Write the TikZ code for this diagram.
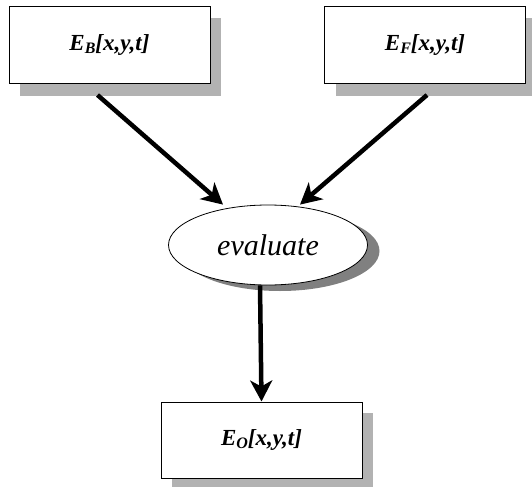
\documentclass[tikz,border=0pt]{standalone}
\usepackage{fontspec}
\setmainfont{Liberation Serif}
\usetikzlibrary{arrows.meta,calc,shapes.geometric}
\newcommand{\lowsub}[1]{\raisebox{-3pt}{\fontsize{16}{18}\selectfont #1}}
\begin{document}
\begin{tikzpicture}[x=1pt,y=1pt,
  box/.style={draw=black,line width=1pt,fill=white,rectangle,minimum width=201pt,minimum height=77pt,
    font=\fontsize{23}{26}\selectfont\bfseries\itshape,inner sep=0pt},
  oval/.style={draw=black,line width=0.8pt,fill=white,ellipse,minimum width=199pt,minimum height=80pt,
    font=\fontsize{30}{34}\selectfont\itshape,inner sep=0pt},
  boxshadow/.style={fill=black!30},
  arr/.style={line width=4.5pt,-{Stealth[length=21pt,width=22pt,inset=6pt]}}]
\useasboundingbox (0,0) rectangle (532,-487);
% drop shadows
\fill[boxshadow] (20,-18) rectangle (221,-96);
\fill[boxshadow] (336,-18) rectangle (540,-96);
\fill[boxshadow] (172,-413) rectangle (373,-487);
\fill[black!50] (280,-251) ellipse [x radius=99.5, y radius=40];
% nodes
\node[box] (B) at (109.5,-45) {E\lowsub{B}[x,y,t]};
\node[box] (F) at (425,-45) {E\lowsub{F}[x,y,t]};
\node[oval] (E) at (268,-245) {evaluate};
\node[box,minimum height=76pt] (O) at (261.5,-440) {E\lowsub{O}[x,y,t]};
% connectors
\draw[arr] ([xshift=-12pt,yshift=-11pt]B.south) -- ([xshift=-45pt,yshift=0pt]E.north);
\draw[arr] ([xshift=2pt,yshift=-11pt]F.south) -- ([xshift=32pt,yshift=0pt]E.north);
\draw[arr] ([xshift=-8pt]E.south) -- (O.north);
\end{tikzpicture}
\end{document}
